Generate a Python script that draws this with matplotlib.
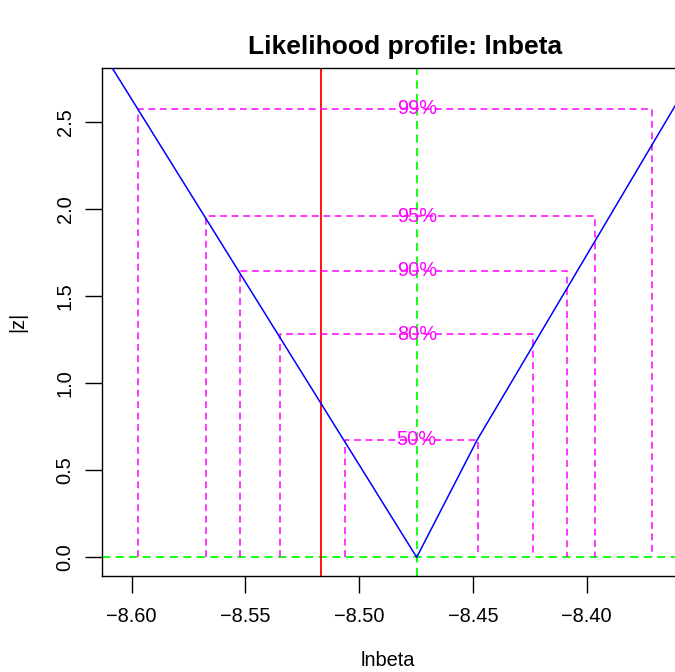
import matplotlib
matplotlib.use("Agg")
import matplotlib.pyplot as plt

plt.rcParams['font.family'] = ['Liberation Sans', 'DejaVu Sans']

# profile (blue polyline)
prof_x = [-8.6300, -8.4747, -8.4481, -8.3619, -8.3500]
prof_z = [3.262, 0.0, 0.6745, 2.576, 2.838]

mle = -8.4747
true_val = -8.5169

conf_labels = ["50%", "80%", "90%", "95%", "99%"]
conf_z = [0.6745, 1.2816, 1.6449, 1.9600, 2.5758]
conf_lower = [-8.5061, -8.5348, -8.5524, -8.5673, -8.5972]
conf_upper = [-8.4478, -8.4236, -8.4087, -8.3964, -8.3713]

xticks = [-8.60, -8.55, -8.50, -8.45, -8.40]
xtick_labels = ["\u22128.60", "\u22128.55", "\u22128.50", "\u22128.45", "\u22128.40"]
yticks = [0.0, 0.5, 1.0, 1.5, 2.0, 2.5]
ytick_labels = ["0.0", "0.5", "1.0", "1.5", "2.0", "2.5"]

W, H = 675, 672
fig = plt.figure(figsize=(W / 100, H / 100), dpi=100)
left_px, right_px, bottom_px, top_px = 102.3, 700, 576, 68
ax = fig.add_axes([left_px / W, 1 - bottom_px / H, (right_px - left_px) / W, (bottom_px - top_px) / H])

magenta = '#FF00FF'
dash = (0, (4.5, 3))
ax.plot(prof_x, prof_z, color='#0000FF', lw=1.1, zorder=3)
ax.axvline(mle, color='#00FF00', lw=1.3, linestyle=dash, zorder=2)
ax.axhline(0, color='#00FF00', lw=1.3, linestyle=dash, zorder=2)
ax.axvline(true_val, color='#FF0000', lw=1.3, zorder=2)

for lab, z, lo, up in zip(conf_labels, conf_z, conf_lower, conf_upper):
    ax.plot([lo, lo, up, up], [0, z, z, 0], color=magenta, lw=1.1, linestyle=dash, zorder=2)
    ax.text(mle, z, lab, color=magenta, ha='center', va='center', fontsize=14.4, zorder=4)

ax.set_xlim(-8.61286, -8.60 + (right_px - 131.7) / 2275)
ax.set_ylim(-0.1075, 2.8103)
ax.set_xticks(xticks)
ax.set_xticklabels(xtick_labels)
ax.set_yticks(yticks)
ax.set_yticklabels(ytick_labels, rotation=90, va='center')
ax.tick_params(axis='both', direction='out', length=12, width=1.0, labelsize=14.4, color='black')
ax.tick_params(axis='x', pad=10)
ax.tick_params(axis='y', pad=8)
for s in ax.spines.values():
    s.set_linewidth(1.0)
    s.set_color('black')

fig.text(405 / W, 1 - 47 / H, "Likelihood profile: lnbeta",
         ha='center', va='center', fontsize=19, fontweight='bold')
fig.text(388 / W, 1 - 660 / H, "lnbeta", ha='center', va='center', fontsize=14.4)
fig.text(18 / W, 1 - 322 / H, "|z|", ha='center', va='center', rotation=90, fontsize=14.4)

fig.savefig("out.png", dpi=100)
